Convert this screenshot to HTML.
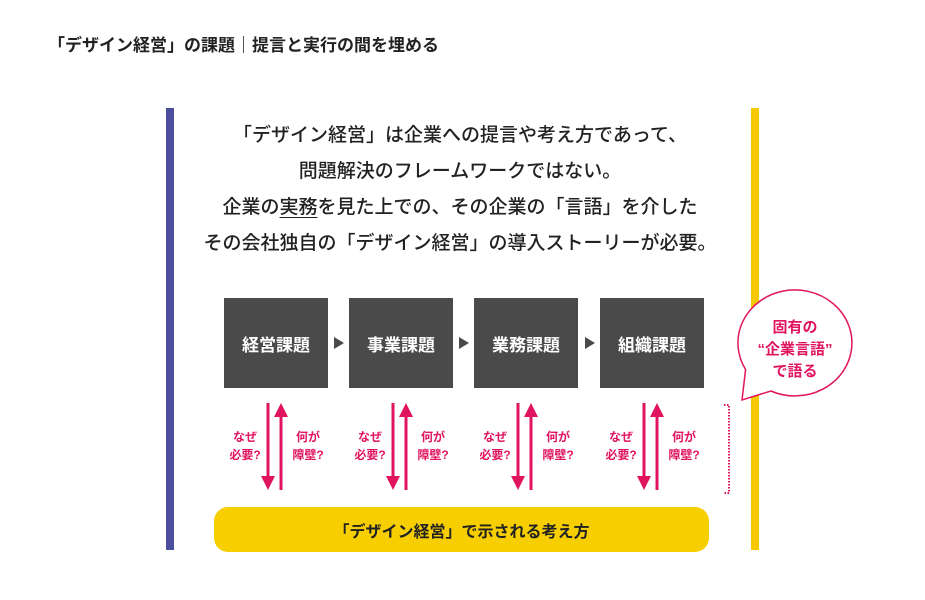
<!DOCTYPE html>
<html><head><meta charset="utf-8"><style>
body{margin:0;width:925px;height:600px;background:#fff;position:relative;overflow:hidden;font-family:"Liberation Sans","Noto Sans CJK JP",sans-serif;color:#222}
.a{position:absolute}
.t{font-weight:bold;font-size:17px;left:48px;top:31px}
.l{left:180px;width:560px;text-align:center;font-size:19px;font-weight:500;line-height:36px;top:118px}
.box{background:#4a4a4a;color:#fff;font-size:17px;font-weight:bold;width:104px;height:90px;top:298px;display:flex;align-items:center;justify-content:center}
.tri{width:0;height:0;border-left:10px solid #4a4a4a;border-top:6px solid transparent;border-bottom:6px solid transparent;top:337px}
.pk{color:#e0145f;font-size:12px;font-weight:bold;text-align:center;line-height:18px}
</style></head><body>
<div class="a t">「デザイン経営」の課題｜提言と実行の間を埋める</div>
<div class="a" style="left:166px;top:108px;width:8px;height:442px;background:#4b4f9e"></div>
<div class="a" style="left:751px;top:108px;width:8px;height:442px;background:#f5c800"></div>
<div class="a l">「デザイン経営」は企業への提言や考え方であって、<br>問題解決のフレームワークではない。<br>企業の<span style="text-decoration:underline;text-underline-offset:4px">実務</span>を見た上での、その企業の「言語」を介した<br>その会社独自の「デザイン経営」の導入ストーリーが必要。</div>
<div class="a box" style="left:224px">経営課題</div>
<div class="a box" style="left:349px">事業課題</div>
<div class="a box" style="left:474px">業務課題</div>
<div class="a box" style="left:600px">組織課題</div>
<div class="a tri" style="left:334px"></div>
<div class="a tri" style="left:459px"></div>
<div class="a tri" style="left:585px"></div>
<svg class="a" style="left:0;top:0" width="925" height="600">
<g fill="#e0145f" stroke="#e0145f">
<g id="ar"><line x1="268" y1="403" x2="268" y2="478" stroke-width="3"/><polygon points="261,476 275,476 268,490" stroke="none"/><line x1="281" y1="415" x2="281" y2="490" stroke-width="3"/><polygon points="274,417 288,417 281,403" stroke="none"/></g>
<use href="#ar" x="125"/><use href="#ar" x="250"/><use href="#ar" x="376"/>
</g>
<path d="M724,405 h5 v88 h-5" fill="none" stroke="#e0145f" stroke-width="2" stroke-dasharray="1.5,1.5"/>
<path d="M745.6,369.5 A57,53 0 1 1 770.9,391 L742,400 Z" fill="#fff" stroke="#e0145f" stroke-width="1.5"/>
</svg>
<div class="a pk" style="left:740px;top:317px;width:110px;font-size:15px;line-height:22px">固有の<br>“企業言語”<br>で語る</div>
<div class="a pk" style="left:220px;top:428px;width:50px">なぜ<br>必要?</div>
<div class="a pk" style="left:283px;top:428px;width:50px">何が<br>障壁?</div>
<div class="a pk" style="left:345px;top:428px;width:50px">なぜ<br>必要?</div>
<div class="a pk" style="left:408px;top:428px;width:50px">何が<br>障壁?</div>
<div class="a pk" style="left:470px;top:428px;width:50px">なぜ<br>必要?</div>
<div class="a pk" style="left:533px;top:428px;width:50px">何が<br>障壁?</div>
<div class="a pk" style="left:596px;top:428px;width:50px">なぜ<br>必要?</div>
<div class="a pk" style="left:659px;top:428px;width:50px">何が<br>障壁?</div>
<div class="a" style="left:214px;top:507px;width:495px;height:45px;background:#f7cf00;border-radius:14px;display:flex;align-items:center;justify-content:center;font-weight:bold;font-size:16px">「デザイン経営」で示される考え方</div>
</body></html>
